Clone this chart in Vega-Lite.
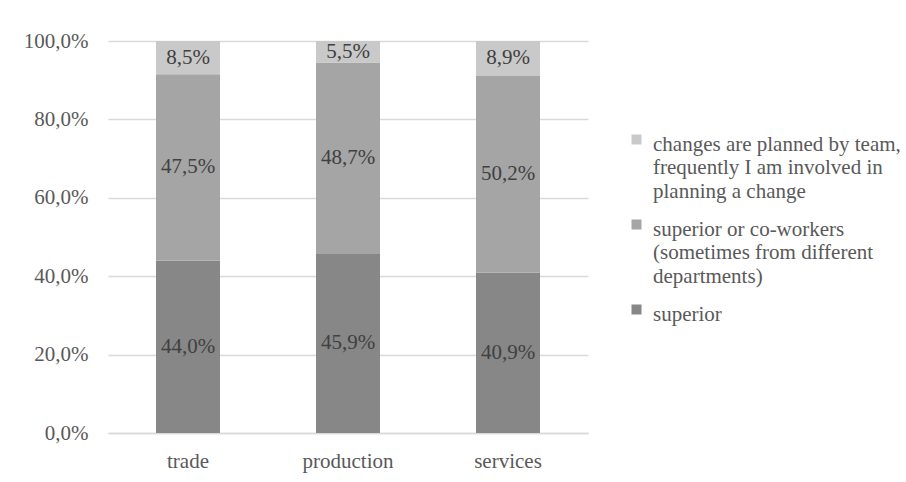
{
  "$schema": "https://vega.github.io/schema/vega-lite/v6.json",
  "width": 480,
  "height": 392,
  "autosize": {"type": "none"},
  "padding": {"left": 108, "top": 41, "right": 318, "bottom": 49},
  "background": "white",
  "config": {
    "locale": {"number": {"decimal": ",", "thousands": " ", "grouping": [3], "currency": ["", ""]}},
    "view": {"stroke": null},
    "font": "Liberation Serif",
    "legend": {"labelFont": "Liberation Serif"}
  },
  "data": {
    "values": [
      {"sector": "trade", "who": "superior", "k": 1, "share": 0.440},
      {"sector": "trade", "who": "superior or co-workers (sometimes from different departments)", "k": 2, "share": 0.475},
      {"sector": "trade", "who": "changes are planned by team, frequently I am involved in planning a change", "k": 3, "share": 0.085},
      {"sector": "production", "who": "superior", "k": 1, "share": 0.459},
      {"sector": "production", "who": "superior or co-workers (sometimes from different departments)", "k": 2, "share": 0.487},
      {"sector": "production", "who": "changes are planned by team, frequently I am involved in planning a change", "k": 3, "share": 0.055},
      {"sector": "services", "who": "superior", "k": 1, "share": 0.409},
      {"sector": "services", "who": "superior or co-workers (sometimes from different departments)", "k": 2, "share": 0.502},
      {"sector": "services", "who": "changes are planned by team, frequently I am involved in planning a change", "k": 3, "share": 0.089}
    ]
  },
  "transform": [
    {
      "stack": "share",
      "groupby": ["sector"],
      "sort": [{"field": "k", "order": "ascending"}],
      "offset": "normalize",
      "as": ["lo", "hi"]
    },
    {"calculate": "(datum.lo + datum.hi) / 2", "as": "mid"}
  ],
  "encoding": {
    "x": {
      "field": "sector",
      "type": "nominal",
      "sort": ["trade", "production", "services"],
      "scale": {"paddingInner": 0.6, "paddingOuter": 0.3},
      "axis": {
        "title": null,
        "labelAngle": 0,
        "labelFont": "Liberation Serif",
        "labelFontSize": 21,
        "labelColor": "#595959",
        "labelBaseline": "alphabetic",
        "labelPadding": 34,
        "ticks": false,
        "tickSize": 0,
        "domainColor": "#d9d9d9",
        "domainWidth": 1.3
      }
    }
  },
  "layer": [
    {
      "mark": {"type": "bar"},
      "encoding": {
        "y": {
          "field": "lo",
          "type": "quantitative",
          "scale": {"domain": [0, 1]},
          "axis": {
            "title": null,
            "format": ".1%",
            "values": [0, 0.2, 0.4, 0.6, 0.8, 1],
            "labelFont": "Liberation Serif",
            "labelFontSize": 21,
            "labelColor": "#595959",
            "labelPadding": 20,
            "ticks": false,
            "tickSize": 0,
            "domain": false,
            "gridColor": "#d9d9d9",
            "gridWidth": 1.3
          }
        },
        "y2": {"field": "hi"},
        "color": {
          "field": "who",
          "type": "nominal",
          "scale": {
            "domain": [
              "changes are planned by team, frequently I am involved in planning a change",
              "superior or co-workers (sometimes from different departments)",
              "superior"
            ],
            "range": ["#c9c9c9", "#a5a5a5", "#878787"]
          },
          "legend": {
            "title": null,
            "orient": "none",
            "legendX": 518,
            "legendY": 88,
            "padding": 0,
            "symbolType": "square",
            "symbolSize": 100,
            "symbolStrokeWidth": 0,
            "symbolOpacity": 1,
            "labelFont": "Liberation Serif",
            "labelFontSize": 21,
            "labelColor": "#595959",
            "labelOffset": 6,
            "labelLimit": 300,
            "labelBaseline": "top",
            "symbolBaseline": "top",
            "rowPadding": 12,
            "labelExpr": "datum.label == 'superior' ? 'superior' : (indexof(datum.label, 'changes') == 0 ? ['changes are planned by team,', 'frequently I am involved in', 'planning a change'] : ['superior or co-workers', '(sometimes from different', 'departments)'])",
            "encode": {
              "labels": {
                "update": {
                  "font": {"value": "Liberation Serif"},
                  "lineHeight": {"value": 23.5},
                  "dy": {"value": -6}
                }
              }
            }
          }
        }
      }
    },
    {
      "mark": {"type": "text", "font": "Liberation Serif", "fontSize": 21, "color": "#404040", "baseline": "middle"},
      "encoding": {
        "y": {"field": "mid", "type": "quantitative"},
        "text": {"field": "share", "type": "quantitative", "format": ".1%"}
      }
    }
  ]
}
